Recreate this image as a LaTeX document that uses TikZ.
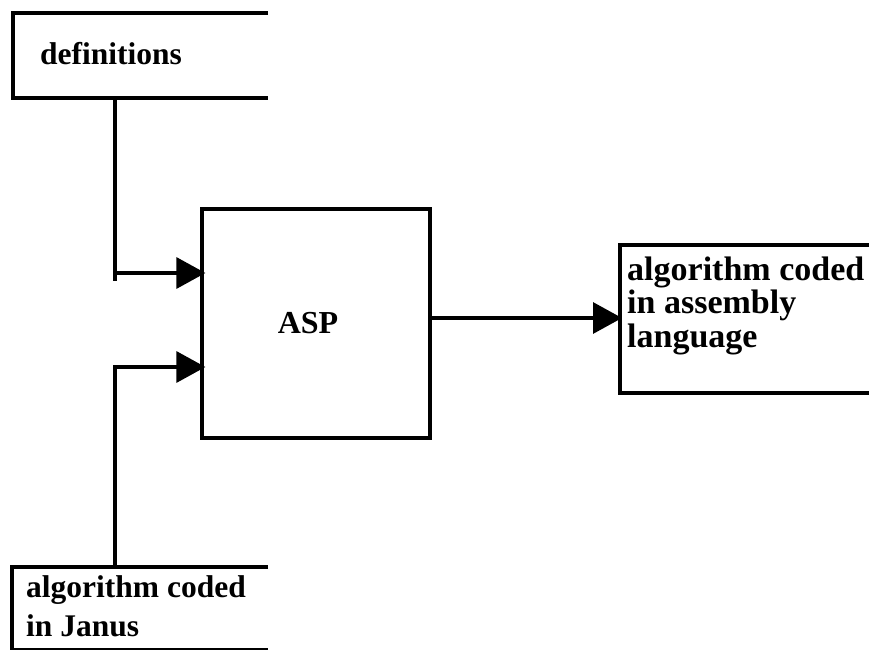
\documentclass[tikz,border=0pt]{standalone}
\usepackage{fontspec}
\setmainfont{Liberation Serif}
\usetikzlibrary{arrows.meta}
\begin{document}
\begin{tikzpicture}[x=1pt,y=-1pt,
  ln/.style={line width=3.2pt},
  arr/.style={line width=3.2pt,-{Triangle[length=29pt,width=31pt]}},
  txt/.style={inner sep=0pt,anchor=base west,align=left,font=\bfseries}]
\useasboundingbox (0,0) rectangle (869,650);
% definitions box (open at right)
\draw[ln] (268,13) -- (13,13) -- (13,98) -- (268,98);
\node[txt,font=\bfseries\fontsize{31.5}{34}\selectfont] (defs) at (40,65) {definitions};
% ASP box
\node[draw,ln,minimum width=228pt,minimum height=229pt,inner sep=0pt] (asp) at (316,323.5) {};
\node[inner sep=0pt,anchor=base,font=\bfseries\fontsize{32}{34}\selectfont] (asplabel) at (308,333) {ASP};
% output box (open at right)
\draw[ln] (869,245) -- (620,245) -- (620,393) -- (869,393);
\coordinate (outL) at (620,318);
\node[txt,font=\bfseries\fontsize{34}{33.5}\selectfont] (out) at (627,347) {algorithm coded\\in assembly\\language};
% input box (open at right)
\draw[ln] (268,567) -- (12,567) -- (12,650);
\draw[line width=1.5pt] (12,649) -- (268,649);
\node[txt,font=\bfseries\fontsize{31.5}{39}\selectfont] (janus) at (26,636) {algorithm coded\\in Janus};
% connectors
\coordinate (dtap) at (115,98);
\coordinate (dend) at (115,281);
\coordinate (in1) at (115,273);
\coordinate (jtap) at (115,567);
\coordinate (in2) at (115,367);
\draw[ln] (dtap) -- (dend);
\draw[arr] (in1) -- ([xshift=5pt]asp.west |- in1);
\draw[ln] (jtap) -- (in2);
\draw[arr] ([xshift=-1.6pt]in2) -- ([xshift=5pt]asp.west |- in2);
\draw[arr] (asp.east |- outL) -- ([xshift=2pt]outL);
\end{tikzpicture}
\end{document}
